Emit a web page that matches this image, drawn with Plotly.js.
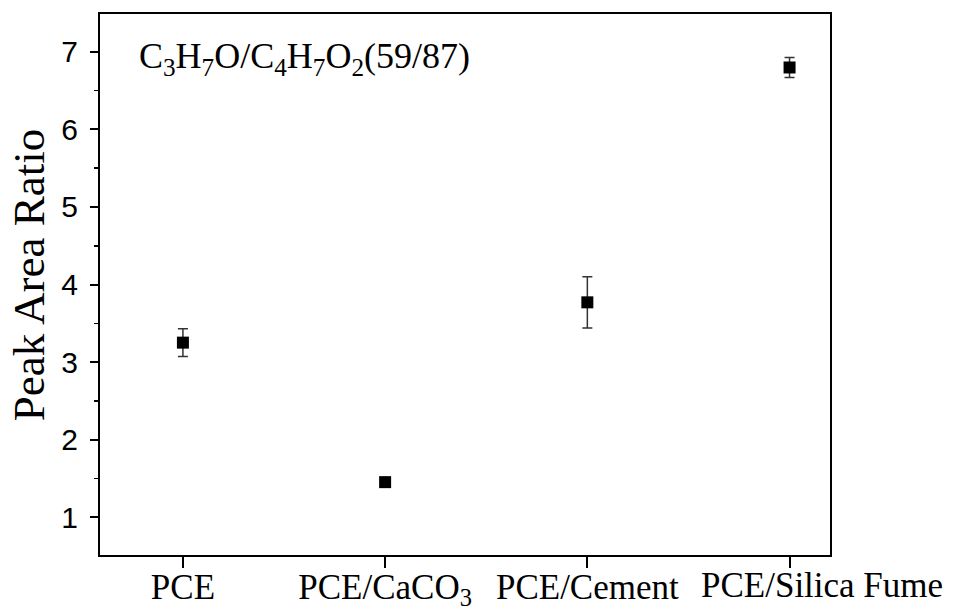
<!DOCTYPE html>
<html>
<head>
<meta charset="utf-8">
<script src="https://cdn.plot.ly/plotly-3.0.1.min.js"></script>
<style>html,body{margin:0;padding:0;background:#fff;}#chart{width:954px;height:613px;}</style>
</head>
<body>
<div id="chart"></div>
<script>
const categories = ["PCE", "PCE/CaCO<sub>3</sub>", "PCE/Cement", "PCE/Silica Fume"];
const ratioValues = [3.25, 1.45, 3.77, 6.80];
const ratioErrors = [0.18, 0.02, 0.33, 0.13];
const yTickValues = [1, 2, 3, 4, 5, 6, 7];
const yTitle = "Peak Area Ratio";
const annotationText = "C<sub>3</sub>H<sub>7</sub>O/C<sub>4</sub>H<sub>7</sub>O<sub>2</sub>(59/87)";

const xIdx = categories.map((_, i) => i);
const serif = 'Liberation Serif, Times New Roman, serif';
const lastIdx = categories.length - 1;
// last label is drawn as an annotation shifted right, as in the reference
const tickTexts = categories.map((c, i) => i === lastIdx ? '' : c);

const trace = {
  x: xIdx,
  y: ratioValues,
  type: 'scatter',
  mode: 'markers',
  marker: {symbol: 'square', size: 12, color: '#000'},
  error_y: {type: 'data', array: ratioErrors, visible: true, color: '#333', thickness: 1.5, width: 5},
  showlegend: false,
  hoverinfo: 'none'
};

const layout = {
  width: 954, height: 613,
  margin: {l: 100, r: 124, t: 14, b: 58},
  paper_bgcolor: '#fff', plot_bgcolor: '#fff',
  xaxis: {
    range: [-0.41, 3.2],
    tickmode: 'array', tickvals: xIdx, ticktext: tickTexts, tickangle: 0,
    ticks: 'outside', ticklen: 11, tickwidth: 2, tickcolor: '#000',
    ticklabelstandoff: -11,
    showline: true, linewidth: 2, linecolor: '#000', mirror: true,
    showgrid: false, zeroline: false,
    tickfont: {family: serif, size: 35, color: '#000'}
  },
  yaxis: {
    range: [0.51, 7.49],
    tickmode: 'array', tickvals: yTickValues,
    ticks: 'outside', ticklen: 8, tickwidth: 2, tickcolor: '#000',
    ticklabelstandoff: 6,
    minor: {dtick: 0.5, ticks: 'outside', ticklen: 4, tickwidth: 1.5, tickcolor: '#000'},
    showline: true, linewidth: 2, linecolor: '#000', mirror: true,
    showgrid: false, zeroline: false,
    tickfont: {family: 'Liberation Sans, Arial, sans-serif', size: 30, color: '#000'}
  },
  annotations: [{
    xref: 'paper', yref: 'paper', x: 0.05, y: 0.918, xanchor: 'left', yanchor: 'middle',
    text: annotationText, showarrow: false,
    font: {family: serif, size: 36, color: '#000'}
  }, {
    xref: 'paper', yref: 'paper', x: -0.097, y: 0.5176, xanchor: 'center', yanchor: 'middle',
    text: yTitle, showarrow: false, textangle: -90,
    font: {family: serif, size: 45, color: '#000'}
  }, {
    xref: 'x', yref: 'paper', x: lastIdx, y: 0, xanchor: 'center', yanchor: 'top',
    xshift: 32, yshift: -9,
    text: categories[lastIdx], showarrow: false,
    font: {family: serif, size: 35, color: '#000'}
  }]
};

Plotly.newPlot('chart', [trace], layout, {displayModeBar: false, staticPlot: true});
</script>
</body>
</html>
